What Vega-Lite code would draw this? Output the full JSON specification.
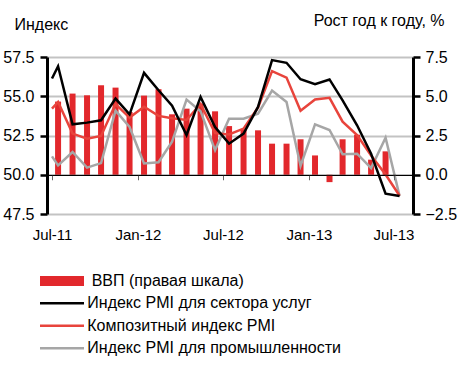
{
  "$schema": "https://vega.github.io/schema/vega-lite/v6.json",
  "width": 366,
  "height": 157,
  "autosize": {"type": "none"},
  "padding": {"left": 47, "top": 57, "right": 49, "bottom": 169},
  "background": "white",
  "config": {
    "font": "Liberation Sans",
    "view": {"stroke": null},
    "axis": {"labelColor": "black", "titleColor": "black", "titleFontWeight": "normal", "labelFont": "Liberation Sans", "titleFont": "Liberation Sans"},
    "legend": {"labelColor": "black", "labelFontSize": 16, "labelLimit": 0, "padding": 0, "title": null}
  },
  "datasets": {
    "gdp": [
      {"date": "2011-07-14", "series": "ВВП (правая шкала)", "value": 4.66},
      {"date": "2011-08-14", "series": "ВВП (правая шкала)", "value": 5.17},
      {"date": "2011-09-14", "series": "ВВП (правая шкала)", "value": 5.06},
      {"date": "2011-10-14", "series": "ВВП (правая шкала)", "value": 5.7},
      {"date": "2011-11-14", "series": "ВВП (правая шкала)", "value": 5.55},
      {"date": "2011-12-14", "series": "ВВП (правая шкала)", "value": 4.0},
      {"date": "2012-01-14", "series": "ВВП (правая шкала)", "value": 5.04},
      {"date": "2012-02-14", "series": "ВВП (правая шкала)", "value": 5.45},
      {"date": "2012-03-14", "series": "ВВП (правая шкала)", "value": 3.85},
      {"date": "2012-04-14", "series": "ВВП (правая шкала)", "value": 4.21},
      {"date": "2012-05-14", "series": "ВВП (правая шкала)", "value": 4.53},
      {"date": "2012-06-14", "series": "ВВП (правая шкала)", "value": 4.04},
      {"date": "2012-07-14", "series": "ВВП (правая шкала)", "value": 3.1},
      {"date": "2012-08-14", "series": "ВВП (правая шкала)", "value": 2.9},
      {"date": "2012-09-14", "series": "ВВП (правая шкала)", "value": 2.83},
      {"date": "2012-10-14", "series": "ВВП (правая шкала)", "value": 1.98},
      {"date": "2012-11-14", "series": "ВВП (правая шкала)", "value": 1.98},
      {"date": "2012-12-14", "series": "ВВП (правая шкала)", "value": 2.26},
      {"date": "2013-01-14", "series": "ВВП (правая шкала)", "value": 1.23},
      {"date": "2013-02-14", "series": "ВВП (правая шкала)", "value": -0.47},
      {"date": "2013-03-14", "series": "ВВП (правая шкала)", "value": 2.26},
      {"date": "2013-04-14", "series": "ВВП (правая шкала)", "value": 2.55},
      {"date": "2013-05-14", "series": "ВВП (правая шкала)", "value": 0.96},
      {"date": "2013-06-14", "series": "ВВП (правая шкала)", "value": 1.49}
    ],
    "pmi": [
      {"date": "2011-07-01", "series": "Индекс PMI для промышленности", "value": 51.17},
      {"date": "2011-07-14", "series": "Индекс PMI для промышленности", "value": 50.6},
      {"date": "2011-08-14", "series": "Индекс PMI для промышленности", "value": 51.45},
      {"date": "2011-09-14", "series": "Индекс PMI для промышленности", "value": 50.45},
      {"date": "2011-10-14", "series": "Индекс PMI для промышленности", "value": 50.74},
      {"date": "2011-11-14", "series": "Индекс PMI для промышленности", "value": 54.08},
      {"date": "2011-12-14", "series": "Индекс PMI для промышленности", "value": 53.04},
      {"date": "2012-01-14", "series": "Индекс PMI для промышленности", "value": 50.72},
      {"date": "2012-02-14", "series": "Индекс PMI для промышленности", "value": 50.8},
      {"date": "2012-03-14", "series": "Индекс PMI для промышленности", "value": 52.1},
      {"date": "2012-04-14", "series": "Индекс PMI для промышленности", "value": 54.79},
      {"date": "2012-05-14", "series": "Индекс PMI для промышленности", "value": 54.05},
      {"date": "2012-06-14", "series": "Индекс PMI для промышленности", "value": 51.57},
      {"date": "2012-07-14", "series": "Индекс PMI для промышленности", "value": 53.57},
      {"date": "2012-08-14", "series": "Индекс PMI для промышленности", "value": 53.57},
      {"date": "2012-09-14", "series": "Индекс PMI для промышленности", "value": 53.89},
      {"date": "2012-10-14", "series": "Индекс PMI для промышленности", "value": 55.36},
      {"date": "2012-11-14", "series": "Индекс PMI для промышленности", "value": 54.63},
      {"date": "2012-12-14", "series": "Индекс PMI для промышленности", "value": 50.56},
      {"date": "2013-01-14", "series": "Индекс PMI для промышленности", "value": 53.21},
      {"date": "2013-02-14", "series": "Индекс PMI для промышленности", "value": 52.85},
      {"date": "2013-03-14", "series": "Индекс PMI для промышленности", "value": 51.3},
      {"date": "2013-04-14", "series": "Индекс PMI для промышленности", "value": 51.34},
      {"date": "2013-05-14", "series": "Индекс PMI для промышленности", "value": 50.42},
      {"date": "2013-06-14", "series": "Индекс PMI для промышленности", "value": 52.36},
      {"date": "2013-07-14", "series": "Индекс PMI для промышленности", "value": 48.64},
      {"date": "2011-07-01", "series": "Композитный индекс PMI", "value": 54.21},
      {"date": "2011-07-14", "series": "Композитный индекс PMI", "value": 54.64},
      {"date": "2011-08-14", "series": "Композитный индекс PMI", "value": 52.62},
      {"date": "2011-09-14", "series": "Композитный индекс PMI", "value": 52.3},
      {"date": "2011-10-14", "series": "Композитный индекс PMI", "value": 52.47},
      {"date": "2011-11-14", "series": "Композитный индекс PMI", "value": 54.5},
      {"date": "2011-12-14", "series": "Композитный индекс PMI", "value": 53.64},
      {"date": "2012-01-14", "series": "Композитный индекс PMI", "value": 54.33},
      {"date": "2012-02-14", "series": "Композитный индекс PMI", "value": 53.75},
      {"date": "2012-03-14", "series": "Композитный индекс PMI", "value": 53.6},
      {"date": "2012-04-14", "series": "Композитный индекс PMI", "value": 53.49},
      {"date": "2012-05-14", "series": "Композитный индекс PMI", "value": 54.51},
      {"date": "2012-06-14", "series": "Композитный индекс PMI", "value": 52.65},
      {"date": "2012-07-14", "series": "Композитный индекс PMI", "value": 52.57},
      {"date": "2012-08-14", "series": "Композитный индекс PMI", "value": 52.94},
      {"date": "2012-09-14", "series": "Композитный индекс PMI", "value": 54.28},
      {"date": "2012-10-14", "series": "Композитный индекс PMI", "value": 56.6},
      {"date": "2012-11-14", "series": "Композитный индекс PMI", "value": 56.19},
      {"date": "2012-12-14", "series": "Композитный индекс PMI", "value": 54.08},
      {"date": "2013-01-14", "series": "Композитный индекс PMI", "value": 54.8},
      {"date": "2013-02-14", "series": "Композитный индекс PMI", "value": 54.9},
      {"date": "2013-03-14", "series": "Композитный индекс PMI", "value": 53.38},
      {"date": "2013-04-14", "series": "Композитный индекс PMI", "value": 52.53},
      {"date": "2013-05-14", "series": "Композитный индекс PMI", "value": 51.23},
      {"date": "2013-06-14", "series": "Композитный индекс PMI", "value": 50.01},
      {"date": "2013-07-14", "series": "Композитный индекс PMI", "value": 48.66},
      {"date": "2011-07-01", "series": "Индекс PMI для сектора услуг", "value": 56.13},
      {"date": "2011-07-14", "series": "Индекс PMI для сектора услуг", "value": 56.91},
      {"date": "2011-08-14", "series": "Индекс PMI для сектора услуг", "value": 53.21},
      {"date": "2011-09-14", "series": "Индекс PMI для сектора услуг", "value": 53.32},
      {"date": "2011-10-14", "series": "Индекс PMI для сектора услуг", "value": 53.47},
      {"date": "2011-11-14", "series": "Индекс PMI для сектора услуг", "value": 54.85},
      {"date": "2011-12-14", "series": "Индекс PMI для сектора услуг", "value": 53.85},
      {"date": "2012-01-14", "series": "Индекс PMI для сектора услуг", "value": 56.49},
      {"date": "2012-02-14", "series": "Индекс PMI для сектора услуг", "value": 55.38},
      {"date": "2012-03-14", "series": "Индекс PMI для сектора услуг", "value": 54.4},
      {"date": "2012-04-14", "series": "Индекс PMI для сектора услуг", "value": 52.53},
      {"date": "2012-05-14", "series": "Индекс PMI для сектора услуг", "value": 54.96},
      {"date": "2012-06-14", "series": "Индекс PMI для сектора услуг", "value": 53.04},
      {"date": "2012-07-14", "series": "Индекс PMI для сектора услуг", "value": 51.98},
      {"date": "2012-08-14", "series": "Индекс PMI для сектора услуг", "value": 52.62},
      {"date": "2012-09-14", "series": "Индекс PMI для сектора услуг", "value": 54.32},
      {"date": "2012-10-14", "series": "Индекс PMI для сектора услуг", "value": 57.3},
      {"date": "2012-11-14", "series": "Индекс PMI для сектора услуг", "value": 57.13},
      {"date": "2012-12-14", "series": "Индекс PMI для сектора услуг", "value": 56.08},
      {"date": "2013-01-14", "series": "Индекс PMI для сектора услуг", "value": 55.77},
      {"date": "2013-02-14", "series": "Индекс PMI для сектора услуг", "value": 56.07},
      {"date": "2013-03-14", "series": "Индекс PMI для сектора услуг", "value": 54.74},
      {"date": "2013-04-14", "series": "Индекс PMI для сектора услуг", "value": 53.15},
      {"date": "2013-05-14", "series": "Индекс PMI для сектора услуг", "value": 51.34},
      {"date": "2013-06-14", "series": "Индекс PMI для сектора услуг", "value": 48.79},
      {"date": "2013-07-14", "series": "Индекс PMI для сектора услуг", "value": 48.64}
    ]
  },
  "layer": [
    {
      "data": {"name": "gdp"},
      "mark": {"type": "bar", "size": 6},
      "encoding": {
        "x": {
          "field": "date", "type": "temporal",
          "scale": {"type": "utc", "domain": [{"year": 2011, "month": 7, "date": 1, "utc": true}, {"year": 2013, "month": 8, "date": 1, "utc": true}]},
          "axis": {
            "orient": "bottom", "offset": -39.25, "title": null, "grid": false, "zindex": 1,
            "values": [
              {"year": 2011, "month": 7, "date": 1, "utc": true},
              {"year": 2012, "month": 1, "date": 1, "utc": true},
              {"year": 2012, "month": 7, "date": 1, "utc": true},
              {"year": 2013, "month": 1, "date": 1, "utc": true},
              {"year": 2013, "month": 7, "date": 1, "utc": true}
            ],
            "format": "%b-%y", "labelFontSize": 15, "labelPadding": 48, "labelFlush": false, "labelOverlap": false,
            "domainColor": "black", "domainWidth": 1, "tickColor": "#666666", "tickSize": 5, "tickWidth": 1
          }
        },
        "y": {
          "field": "value", "type": "quantitative",
          "scale": {"domain": [-2.5, 7.5], "nice": false, "zero": false},
          "axis": {
            "orient": "right", "values": [-2.5, 0, 2.5, 5, 7.5], "format": ".1f", "grid": false, "zindex": 1,
            "domainColor": "black", "domainWidth": 3, "tickColor": "black", "tickWidth": 2.5, "tickSize": 7,
            "labelFontSize": 16, "labelPadding": 5,
            "title": "Рост год к году, %", "titleAngle": 0, "titleAlign": "right", "titleBaseline": "alphabetic",
            "titleX": 31, "titleY": -32, "titleFontSize": 16
          }
        },
        "fill": {
          "field": "series", "type": "nominal",
          "scale": {"domain": ["ВВП (правая шкала)"], "range": ["#e2282c"]},
          "legend": {
            "orient": "none", "legendX": 7, "legendY": 216,
            "symbolType": "M-4.4,-1H4.4V1H-4.4Z", "symbolSize": 100, "symbolStrokeWidth": 0,
            "labelOffset": 21.7
          }
        }
      }
    },
    {
      "data": {"name": "pmi"},
      "encoding": {
        "x": {"field": "date", "type": "temporal"},
        "y": {
          "field": "value", "type": "quantitative",
          "scale": {"domain": [47.5, 57.5], "nice": false, "zero": false},
          "axis": {
            "orient": "left", "values": [47.5, 50, 52.5, 55, 57.5], "format": ".1f",
            "grid": true,
            "gridColor": {"condition": {"test": "datum.value === 50", "value": "black"}, "value": "#c3c3c3"},
            "gridWidth": {"condition": {"test": "datum.value === 50", "value": 1}, "value": 2},
            "domainColor": "black", "domainWidth": 3, "tickColor": "black", "tickWidth": 2.5, "tickSize": 7,
            "labelFontSize": 16, "labelPadding": 6,
            "title": "Индекс", "titleAngle": 0, "titleAlign": "left", "titleBaseline": "alphabetic",
            "titleX": -33, "titleY": -28, "titleFontSize": 16
          }
        },
        "stroke": {
          "field": "series", "type": "nominal",
          "scale": {
            "domain": ["Индекс PMI для сектора услуг", "Композитный индекс PMI", "Индекс PMI для промышленности"],
            "range": ["#000000", "#e8443c", "#a6a6a6"]
          },
          "legend": {
            "orient": "none", "legendX": 7, "legendY": 238.3,
            "symbolType": "M-4.4,0H4.4", "symbolSize": 100, "symbolStrokeWidth": 2.5,
            "rowPadding": 6.5, "labelOffset": 17.3
          }
        }
      },
      "layer": [
        {"transform": [{"filter": "datum.series === 'Индекс PMI для промышленности'"}], "mark": {"type": "line", "strokeWidth": 2.5}},
        {"transform": [{"filter": "datum.series === 'Композитный индекс PMI'"}], "mark": {"type": "line", "strokeWidth": 2.5}},
        {"transform": [{"filter": "datum.series === 'Индекс PMI для сектора услуг'"}], "mark": {"type": "line", "strokeWidth": 2.5}}
      ]
    }
  ],
  "resolve": {"scale": {"y": "independent"}}
}
